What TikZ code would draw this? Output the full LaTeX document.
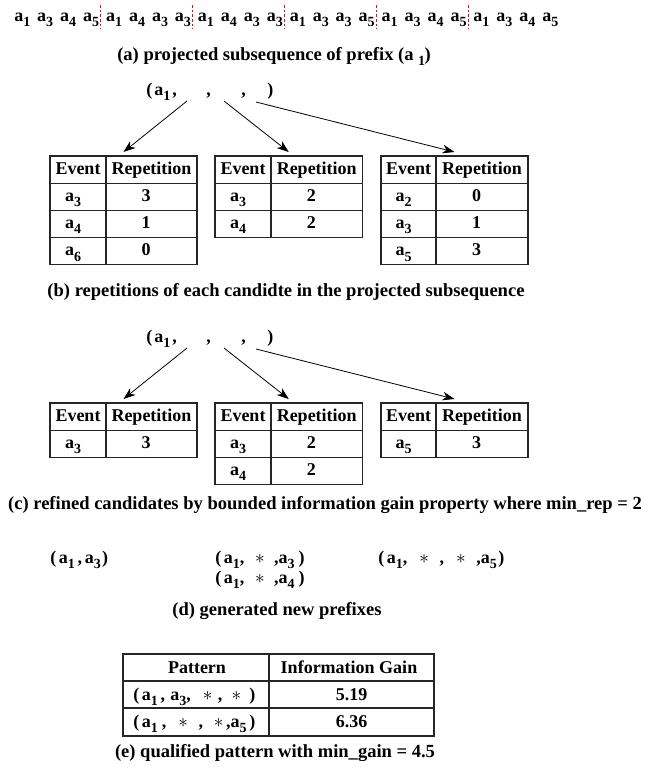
\documentclass[tikz,border=0pt]{standalone}
\usepackage{fontspec}
\setmainfont{Liberation Serif}
\usetikzlibrary{arrows.meta}
\newcommand\sbx[1]{\raisebox{-0.3em}{\fontsize{10.5}{11}\selectfont #1}}
\newcommand\ev[1]{a\sbx{#1}}
\newcommand\hs[1]{\hspace{#1pt}}
\newcommand\rh{27.2}
% name, x0, xdiv, x1, ytop, rows (event/value)
\newcommand\evtab[6]{%
  \coordinate (#1) at ({(#2+#4)/2},#5);
  \draw[tbl] (#2,#5) rectangle (#4,{#5+\rh});
  \draw[tbl] (#3,#5) -- (#3,{#5+\rh});
  \node[txt,anchor=base] at ({(#2+#3)/2},{#5+\rh/2+5}) {Event};
  \node[txt,anchor=base] at ({(#3+#4)/2},{#5+\rh/2+5}) {Repetition};
  \foreach \e/\v [count=\r] in {#6} {
    \draw[tbl] (#2,{#5+\rh*\r}) rectangle (#4,{#5+\rh*(\r+1)});
    \draw[tbl] (#3,{#5+\rh*\r}) -- (#3,{#5+\rh*(\r+1)});
    \node[txt,anchor=base] at ({(#2+#3)/2-5},{#5+\rh*\r+\rh/2+4.5}) {\ev{\e}};
    \node[txt,anchor=base] at ({(#3+#4)/2-5.5},{#5+\rh*\r+\rh/2+4.5}) {\v};
  }%
}
\tikzset{
  txt/.style={inner sep=0pt, font=\fontsize{13.5}{15}\selectfont\bfseries},
  captxt/.style={inner sep=0pt, font=\fontsize{13.9}{15}\selectfont\bfseries},
  tbl/.style={draw=black!85, line width=1pt},
  arr/.style={-{Stealth[length=9pt,width=6.5pt,inset=2.8pt]}, line width=0.6pt},
  sepline/.style={draw=red, dash pattern=on 2pt off 1.5pt, line width=0.6pt}
}
\begin{document}
\begin{tikzpicture}[x=0.75pt,y=-0.75pt]
\useasboundingbox (0,0) rectangle (650,775);
% (a) top sequence
\foreach \s [count=\i from 0] in {1,3,4,5,1,4,3,3,1,4,3,3,1,3,3,5,1,3,4,5,1,3,4,5}
  \node[txt,anchor=base west] (t\i) at ({14+22.96*\i},21) {\ev{\s}};
\foreach \k in {0,...,4}
  \draw[sepline] ({100.4+92.1*\k},5) -- ({100.4+92.1*\k},29);
\node[captxt,anchor=base] (capa) at (274,60) {(a) projected subsequence of prefix (a \sbx{1}\kern-0.5pt)};

% (b)
\node[txt,anchor=base west] (pb0) at (146,95) {(\hs{1.5}\ev{1}\hs{1.5},};
\node[txt,anchor=base west] (pb1) at (206,95) {,};
\node[txt,anchor=base west] (pb2) at (241,95) {,};
\node[txt,anchor=base west] (pb3) at (267,95) {)};
\coordinate (sb1) at (187,101);
\coordinate (sb2) at (224,101);
\coordinate (sb3) at (256,102);
\evtab{tb1}{50}{106}{197}{156}{3/3,4/1,6/0}
\evtab{tb2}{215}{271}{362.5}{156}{3/2,4/2}
\evtab{tb3}{381}{436}{528}{156}{2/0,3/1,5/3}
\draw[arr] (sb1) -- ([yshift=3pt]tb1);
\draw[arr] (sb2) -- ([yshift=3pt]tb2);
\draw[arr] (sb3) -- ([yshift=3pt]tb3);
\node[captxt,anchor=base] (capb) at (286,296) {(b) repetitions of each candidte in the projected subsequence};

% (c)
\node[txt,anchor=base west] (pc0) at (146,342) {(\hs{1.5}\ev{1}\hs{1.5},};
\node[txt,anchor=base west] (pc1) at (206,342) {,};
\node[txt,anchor=base west] (pc2) at (241,342) {,};
\node[txt,anchor=base west] (pc3) at (267,342) {)};
\coordinate (sc1) at (187,348);
\coordinate (sc2) at (224,348);
\coordinate (sc3) at (256,349);
\evtab{tc1}{50}{106}{197}{403}{3/3}
\evtab{tc2}{215}{271}{362.5}{403}{3/2,4/2}
\evtab{tc3}{381}{436}{528}{403}{5/3}
\draw[arr] (sc1) -- ([yshift=3pt]tc1);
\draw[arr] (sc2) -- ([yshift=3pt]tc2);
\draw[arr] (sc3) -- ([yshift=3pt]tc3);
\node[captxt,anchor=base] (capc) at (325,509) {(c) refined candidates by bounded information gain property where min\_rep = 2};

% (d)
\node[txt,anchor=base west] (d1) at (50,563) {(\hs{2}\ev{1}\hs{2},\hs{2}\ev{3}\hs{1})};
\node[txt,anchor=base west] (d2) at (215,563) {(\hs{2}\ev{1},\hs{8}$\ast$\hs{7},\ev{3}\hs{3})};
\node[txt,anchor=base west] (d3) at (215,583) {(\hs{2}\ev{1},\hs{8}$\ast$\hs{7},\ev{4}\hs{3})};
\node[txt,anchor=base west] (d4) at (378,563) {(\hs{2}\ev{1},\hs{9}$\ast$\hs{8},\hs{9}$\ast$\hs{8},\ev{5}\hs{1})};
\node[captxt,anchor=base] (capd) at (277,615) {(d) generated new prefixes};

% (e)
\draw[tbl] (123,654) rectangle (434,736);
\draw[tbl] (123,681) -- (434,681);
\draw[tbl] (123,708) -- (434,708);
\draw[tbl] (269,654) -- (269,736);
\node[txt,anchor=base] (eh1) at (197,673) {Pattern};
\node[txt,anchor=base] (eh2) at (349,673) {Information Gain};
\node[txt,anchor=base west] (ep1) at (133,700.5) {(\hs{2}\ev{1}\hs{2},\hs{4}\ev{3},\hs{9}$\ast$\hs{4},\hs{7}$\ast$\hs{6})};
\node[txt,anchor=base] (ev1) at (351.5,700.5) {5.19};
\node[txt,anchor=base west] (ep2) at (133,727) {(\hs{2}\ev{1}\hs{3},\hs{9}$\ast$\hs{8},\hs{8}$\ast$\hs{2},\ev{5}\hs{2})};
\node[txt,anchor=base] (ev2) at (351.5,727) {6.36};
\node[captxt,anchor=base] (cape) at (275,757) {(e) qualified pattern with min\_gain = 4.5};
\end{tikzpicture}
\end{document}
